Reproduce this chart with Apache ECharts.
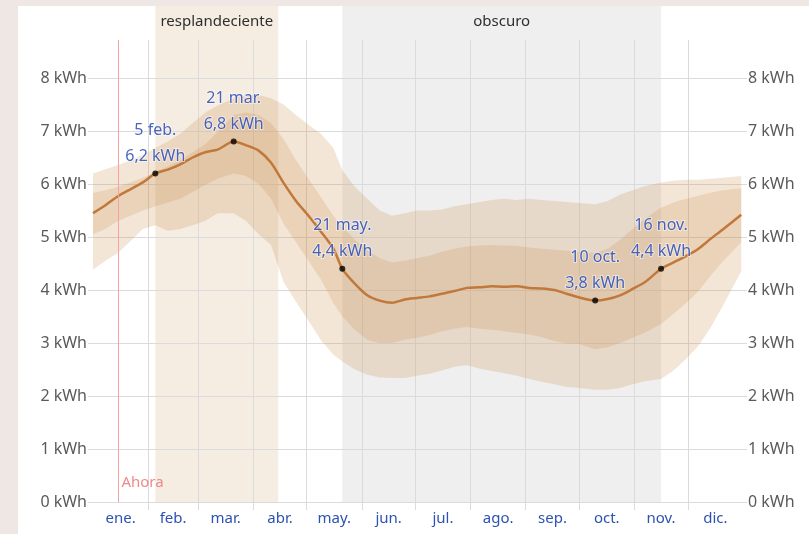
<!DOCTYPE html>
<html>
<head>
<meta charset="utf-8">
<script src="https://cdn.jsdelivr.net/npm/echarts@6/dist/echarts.min.js"></script>
<style>
  html, body { margin: 0; padding: 0; width: 809px; height: 534px; overflow: hidden; background: #efe7e4; }
  #chart { position: absolute; left: 18px; top: 6px; width: 791px; height: 528px; background: #ffffff; }
</style>
</head>
<body>
<div id="chart"></div>
<script>
// Day of year (0 = 1 ene.) for every sample
const days = [0, 7, 14, 21, 28, 35, 42, 49, 56, 63, 70, 79, 86, 93, 100, 107, 114, 121, 128, 135,
  140, 147, 154, 161, 168, 175, 182, 189, 196, 203, 210, 217, 224, 231, 238, 245, 252, 259, 266, 273,
  282, 289, 296, 303, 310, 319, 326, 333, 340, 347, 354, 364];

// Average daily incident shortwave energy (kWh)
const meanKwh = [5.45, 5.60, 5.77, 5.90, 6.03, 6.20, 6.27, 6.37, 6.50, 6.60, 6.65, 6.80, 6.73, 6.63, 6.40, 6.02, 5.68, 5.40, 5.10, 4.78,
  4.40, 4.12, 3.90, 3.80, 3.76, 3.82, 3.85, 3.88, 3.93, 3.98, 4.04, 4.05, 4.07, 4.06, 4.07, 4.04, 4.03, 4.00, 3.93, 3.86,
  3.80, 3.83, 3.90, 4.02, 4.15, 4.40, 4.52, 4.64, 4.78, 4.97, 5.15, 5.42];

// 25th to 75th percentile band
const p25 = [5.05, 5.15, 5.30, 5.40, 5.50, 5.58, 5.65, 5.72, 5.85, 5.98, 6.10, 6.20, 6.15, 6.00, 5.72, 5.25, 4.90, 4.55, 4.20, 3.75,
  3.50, 3.25, 3.06, 3.00, 3.00, 3.06, 3.10, 3.15, 3.22, 3.27, 3.30, 3.27, 3.25, 3.22, 3.19, 3.16, 3.11, 3.04, 2.99, 2.98,
  2.88, 2.92, 3.00, 3.10, 3.20, 3.36, 3.55, 3.75, 3.98, 4.28, 4.55, 4.90];
const p75 = [5.83, 5.88, 5.95, 6.03, 6.12, 6.22, 6.33, 6.45, 6.60, 6.75, 6.98, 7.30, 7.35, 7.30, 7.15, 6.85, 6.45, 6.10, 5.75, 5.40,
  5.20, 4.95, 4.75, 4.60, 4.52, 4.55, 4.60, 4.65, 4.72, 4.78, 4.82, 4.84, 4.85, 4.84, 4.83, 4.80, 4.78, 4.76, 4.74, 4.72,
  4.70, 4.78, 4.95, 5.15, 5.35, 5.55, 5.65, 5.72, 5.78, 5.84, 5.88, 5.92];

// 10th to 90th percentile band
const p10 = [4.38, 4.55, 4.70, 4.92, 5.15, 5.22, 5.12, 5.15, 5.22, 5.30, 5.45, 5.45, 5.30, 5.05, 4.85, 4.15, 3.78, 3.42, 3.05, 2.78,
  2.65, 2.50, 2.40, 2.35, 2.34, 2.34, 2.38, 2.42, 2.48, 2.55, 2.58, 2.52, 2.47, 2.43, 2.38, 2.32, 2.27, 2.22, 2.17, 2.15,
  2.12, 2.12, 2.15, 2.22, 2.28, 2.32, 2.48, 2.70, 2.95, 3.30, 3.72, 4.35];
const p90 = [6.20, 6.28, 6.36, 6.45, 6.55, 6.68, 6.80, 6.95, 7.15, 7.35, 7.48, 7.62, 7.68, 7.68, 7.62, 7.50, 7.30, 7.12, 6.95, 6.68,
  6.26, 5.95, 5.72, 5.50, 5.40, 5.45, 5.50, 5.50, 5.52, 5.58, 5.62, 5.66, 5.70, 5.72, 5.70, 5.72, 5.70, 5.68, 5.66, 5.64,
  5.62, 5.68, 5.80, 5.88, 5.96, 6.03, 6.06, 6.08, 6.08, 6.10, 6.12, 6.15];

const monthNames = ['ene.', 'feb.', 'mar.', 'abr.', 'may.', 'jun.', 'jul.', 'ago.', 'sep.', 'oct.', 'nov.', 'dic.'];
const monthMidDays = [15.5, 45, 74.5, 105, 135.5, 166, 196.5, 227.5, 258, 288.5, 319, 349.5];
const monthStartDays = [31, 59, 90, 120, 151, 181, 212, 243, 273, 304, 334];
const yTicks = [0, 1, 2, 3, 4, 5, 6, 7, 8];

const annotDays = [35, 79, 140, 282, 319];
const annotDates = ['5 feb.', '21 mar.', '21 may.', '10 oct.', '16 nov.'];
const annotValues = [6.2, 6.8, 4.4, 3.8, 4.4];

const seasonNames = ['resplandeciente', 'obscuro'];
const seasonStart = [35, 140];
const seasonEnd = [104, 319];

const nowDay = 14;
const nowLabel = 'Ahora';

const FONT = '"Noto Sans", "Open Sans", sans-serif';
const seasonFill = ['#f5ece2', '#efefef'];

function fmtKwh(v) {
  return v.toFixed(1).replace('.', ',') + ' kWh';
}

function bandSeries(lower, upper, fill) {
  return {
    type: 'custom',
    xAxisIndex: 0,
    yAxisIndex: 0,
    silent: true,
    z: 1,
    data: [[days[0], lower[0]]],
    renderItem: function (params, api) {
      const pts = [];
      for (let i = 0; i < days.length; i++) pts.push(api.coord([days[i], upper[i]]));
      for (let i = days.length - 1; i >= 0; i--) pts.push(api.coord([days[i], lower[i]]));
      return { type: 'polygon', shape: { points: pts }, style: { fill: fill } };
    }
  };
}

const chart = echarts.init(document.getElementById('chart'), null, { renderer: 'canvas' });

const gridLine = '#dbdbdb';

const option = {
  animation: false,
  textStyle: { fontFamily: FONT },
  grid: [
    { left: 75, right: 66, top: 34, bottom: 32, containLabel: false },
    { left: 75, right: 66, top: 0, bottom: 32, containLabel: false }
  ],
  xAxis: [
    {
      type: 'value', gridIndex: 0, min: 0, max: 365,
      axisLine: { show: false },
      axisTick: { show: true, customValues: monthStartDays, length: 8, lineStyle: { color: gridLine } },
      splitLine: { show: true, lineStyle: { color: gridLine, width: 1 } },
      axisLabel: {
        show: true, customValues: monthMidDays, margin: 9,
        color: '#2c52b2', fontSize: 15, fontFamily: FONT,
        formatter: function (v) { return monthNames[monthMidDays.indexOf(v)]; }
      }
    },
    {
      type: 'value', gridIndex: 1, min: 0, max: 365, show: false
    }
  ],
  yAxis: [
    {
      type: 'value', gridIndex: 0, min: 0, max: 8.717, position: 'left',
      axisLine: { show: false },
      axisTick: { show: true, customValues: yTicks, length: 5, lineStyle: { color: gridLine } },
      splitLine: { show: true, lineStyle: { color: gridLine, width: 1 } },
      axisLabel: {
        customValues: yTicks, margin: 6, color: '#5a5a5a', fontSize: 16, fontFamily: FONT,
        formatter: function (v) { return v + ' kWh'; }
      }
    },
    {
      type: 'value', gridIndex: 0, min: 0, max: 8.717, position: 'right',
      axisLine: { show: false },
      axisTick: { show: true, customValues: yTicks, length: 4, lineStyle: { color: gridLine } },
      splitLine: { show: false },
      axisLabel: {
        customValues: yTicks, margin: 5, color: '#5a5a5a', fontSize: 16, fontFamily: FONT,
        formatter: function (v) { return v + ' kWh'; }
      }
    },
    {
      type: 'value', gridIndex: 1, min: 0, max: 1, show: false
    }
  ],
  series: [
    // Season shading behind everything
    {
      type: 'custom',
      xAxisIndex: 1,
      yAxisIndex: 2,
      silent: true,
      z: -1,
      data: seasonNames.map(function (n, i) { return [seasonStart[i], seasonEnd[i], i]; }),
      renderItem: function (params, api) {
        const i = api.value(2);
        const a = api.coord([api.value(0), 1]);
        const b = api.coord([api.value(1), 0]);
        return {
          type: 'group',
          children: [
            { type: 'rect', shape: { x: a[0], y: a[1], width: b[0] - a[0], height: b[1] - a[1] }, style: { fill: seasonFill[i] } },
            {
              type: 'text',
              style: {
                x: (a[0] + b[0]) / 2, y: a[1] + 16,
                text: seasonNames[i], fill: '#2e2e2e',
                font: '15px ' + FONT, align: 'center', verticalAlign: 'middle'
              }
            }
          ]
        };
      }
    },
    bandSeries(p10, p90, 'rgba(200,140,75,0.22)'),
    bandSeries(p25, p75, 'rgba(200,140,75,0.22)'),
    {
      type: 'line',
      xAxisIndex: 0,
      yAxisIndex: 0,
      data: days.map(function (d, i) { return [d, meanKwh[i]]; }),
      showSymbol: false,
      smooth: 0.25,
      z: 3,
      lineStyle: { color: '#c1783a', width: 2.5 },
      markLine: {
        silent: true,
        symbol: 'none',
        label: { show: false },
        lineStyle: { color: '#f4a2a2', type: 'solid', width: 1 },
        data: [{ xAxis: nowDay }]
      },
      markPoint: {
        silent: true,
        symbol: 'circle',
        symbolSize: 1,
        itemStyle: { color: 'rgba(0,0,0,0)' },
        label: {
          show: true, position: 'right', distance: 3, offset: [0, -19],
          color: '#f08a8a', fontSize: 15, fontFamily: FONT,
          formatter: nowLabel
        },
        data: [{ coord: [nowDay, 0] }]
      }
    },
    {
      type: 'scatter',
      xAxisIndex: 0,
      yAxisIndex: 0,
      z: 4,
      symbolSize: 6,
      itemStyle: { color: '#000000' },
      data: annotDays.map(function (d, i) { return [d, annotValues[i], i]; }),
      label: {
        show: true, position: 'top', distance: 1,
        color: '#1c3fb0', fontSize: 16, fontFamily: FONT, lineHeight: 26,
        textBorderColor: 'rgba(255,255,255,0.6)', textBorderWidth: 2,
        formatter: function (p) {
          const i = p.value[2];
          return annotDates[i] + '\n' + fmtKwh(annotValues[i]);
        }
      }
    }
  ]
};

chart.setOption(option);
</script>
</body>
</html>
